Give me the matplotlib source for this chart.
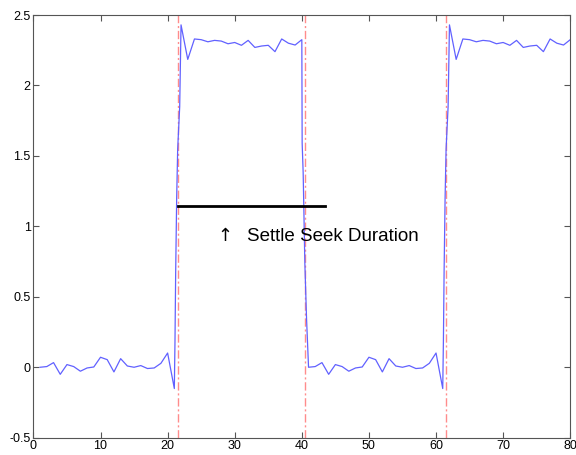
import matplotlib
matplotlib.use("Agg")
import matplotlib.pyplot as plt
import numpy as np

plt.rcParams['font.family'] = ['Liberation Sans', 'DejaVu Sans']

# --- data ---
low_x = [1, 2, 3, 4, 5, 6, 7, 8, 9, 10, 11, 12, 13, 14, 15, 16, 17, 18, 19, 20, 21]
low_y = [0.0, 0.005, 0.033, -0.05, 0.019, 0.005, -0.028, -0.005, 0.002, 0.071,
         0.054, -0.033, 0.061, 0.009, 0.0, 0.012, -0.009, -0.005, 0.028, 0.101, -0.151]
rise_x = [21.1, 21.2, 21.35, 21.5, 21.8]
rise_y = [0.19, 0.67, 1.2, 1.55, 1.85]
high_x = [22, 23, 24, 25, 26, 27, 28, 29, 30, 31, 32, 33, 34, 35, 36, 37, 38, 39, 40]
high_y = [2.43, 2.185, 2.33, 2.325, 2.31, 2.32, 2.315, 2.296, 2.305, 2.285, 2.32,
          2.27, 2.28, 2.285, 2.24, 2.33, 2.30, 2.287, 2.325]
fall_x = [40.05, 40.2, 40.45, 40.7]
fall_y = [1.59, 1.38, 0.74, 0.35]

period = 40
t = np.array(low_x + rise_x + high_x + fall_x
             + [v + period for v in low_x + rise_x] + [v + period for v in high_x])
y = np.array(low_y + rise_y + high_y + fall_y + low_y + rise_y + high_y)

vlines_x = [21.5, 40.5, 61.5]
settle_x = [21.5, 43.4]
settle_y = 1.143
arrow_text = "\u2191"
arrow_pos = (27.4, 0.93)
label_text = "Settle Seek Duration"
label_pos = (31.9, 0.93)

xticks = [0, 10, 20, 30, 40, 50, 60, 70, 80]
yticks = [-0.5, 0, 0.5, 1, 1.5, 2, 2.5]
ytick_labels = ["-0.5", "0", "0.5", "1", "1.5", "2", "2.5"]

fig = plt.figure(figsize=(5.76, 4.55), dpi=100)
ax = fig.add_axes([0.058, 0.038, 0.932, 0.929])

for vx in vlines_x:
    ax.axvline(vx, color=(1.0, 0.55, 0.55), linewidth=1.0, zorder=1,
               dashes=(6, 2, 1.5, 2))

ax.plot(t, y, color=(0.38, 0.38, 1.0), linewidth=0.9, zorder=2)
ax.plot(settle_x, [settle_y, settle_y], color='black', linewidth=2.0, zorder=3)
ax.text(arrow_pos[0], arrow_pos[1], arrow_text, fontsize=13, ha='left', va='center',
        color='black', family=['DejaVu Sans'])
ax.text(label_pos[0], label_pos[1], label_text, fontsize=13.5, ha='left', va='center',
        color='black')

ax.set_xlim(0, 80)
ax.set_ylim(-0.5, 2.5)
ax.set_xticks(xticks)
ax.set_yticks(yticks)
ax.set_yticklabels(ytick_labels)
ax.tick_params(direction='in', top=True, right=True, length=4, width=0.8,
               color='#555555', labelsize=9, pad=2)
for s in ax.spines.values():
    s.set_color('#555555')
    s.set_linewidth(0.8)

fig.savefig("out.png", dpi=100)
